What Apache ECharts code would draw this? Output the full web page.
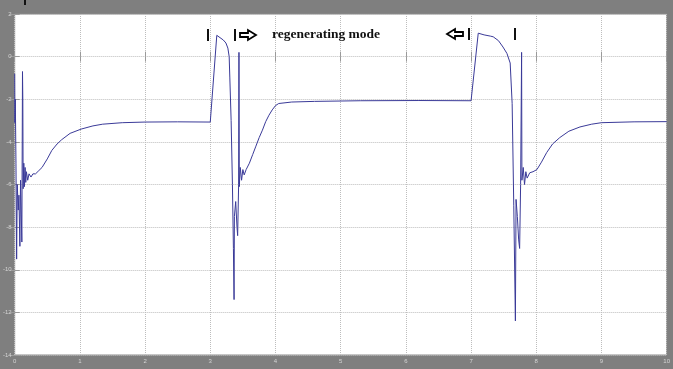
<!DOCTYPE html>
<html>
<head>
<meta charset="utf-8">
<script src="https://cdn.jsdelivr.net/npm/echarts@6/dist/echarts.min.js"></script>
<style>
  html, body { margin: 0; padding: 0; background: #7f7f7f; }
  #chart { width: 673px; height: 369px; }
</style>
</head>
<body>
<div id="chart"></div>
<script>
// time axis (s) and current values
const time = [
  // start-up transient and settling to -3
  0, 0.003, 0.01, 0.02, 0.03, 0.04, 0.055, 0.065, 0.08, 0.09, 0.11, 0.12, 0.125, 0.13, 0.14, 0.15,
  0.16, 0.17, 0.18, 0.2, 0.22, 0.25, 0.28, 0.32, 0.37, 0.42, 0.5, 0.57, 0.65, 0.72, 0.85, 1.02,
  1.2, 1.35, 1.65, 2.0, 2.5, 3.0,
  // first step (motoring peak), dip and settling to -2
  3.1, 3.2, 3.24, 3.27, 3.29, 3.3, 3.32, 3.34, 3.355, 3.365, 3.37, 3.39, 3.41, 3.42, 3.435, 3.44,
  3.445, 3.46, 3.48, 3.5, 3.52, 3.55, 3.6, 3.65, 3.7, 3.75, 3.8, 3.85, 3.9, 3.95, 4.0, 4.05,
  4.25, 4.6, 5.3, 6.2, 7.0,
  // second step, dip and settling back to -3
  7.11, 7.2, 7.3, 7.34, 7.42, 7.49, 7.55, 7.6, 7.63, 7.655, 7.68, 7.69, 7.71, 7.73, 7.745, 7.76,
  7.775, 7.78, 7.8, 7.82, 7.84, 7.86, 7.9, 7.95, 8.01, 8.08, 8.16, 8.25, 8.36, 8.5, 8.67, 8.85,
  9.0, 9.5, 10
];
const current = [
  -0.8, -3.1, -2.0, -5.0, -9.5, -6.0, -7.2, -6.5, -8.9, -5.8, -8.7, -0.7, -2.0, -6.2, -5.0, -6.1,
  -5.2, -5.9, -5.4, -5.8, -5.5, -5.65, -5.5, -5.5, -5.35, -5.2, -4.8, -4.4, -4.1, -3.9, -3.6, -3.4,
  -3.25, -3.17, -3.1, -3.07, -3.06, -3.07,
  1.0, 0.78, 0.64, 0.4, 0.0, -1.0, -3.0, -6.0, -9.0, -11.4, -7.5, -6.8, -8.0, -8.4, -6.0, 0.2,
  -6.1, -5.2, -5.8, -5.3, -5.55, -5.3, -5.0, -4.6, -4.2, -3.8, -3.45, -3.05, -2.75, -2.5, -2.3, -2.2,
  -2.13, -2.1, -2.07, -2.06, -2.07,
  1.1, 1.02, 0.96, 0.93, 0.75, 0.45, 0.15, -0.3, -2.2, -7.0, -12.4, -6.7, -7.5, -8.6, -9.0, -6.0,
  0.2, -5.8, -5.2, -6.0, -5.4, -5.7, -5.45, -5.4, -5.3, -4.95, -4.5, -4.1, -3.8, -3.5, -3.3, -3.17,
  -3.1, -3.06, -3.05
];
const xTicks = [0, 1, 2, 3, 4, 5, 6, 7, 8, 9, 10];
const yTicks = [2, 0, -2, -4, -6, -8, -10, -12, -14];

const trace = time.map((t, i) => [t, current[i]]);

const chart = echarts.init(document.getElementById('chart'));

const labelColor = '#d4d4d4';
const gridLine = { show: true, lineStyle: { color: '#bdbdbd', type: 'dotted', width: 1 } };
const tick = { show: true, inside: true, length: 5, lineStyle: { color: '#9a9a9a' } };

// hollow block arrow used in the annotations
function arrow(x, y, dir) {
  const p = dir > 0
    ? [[0, -2], [8, -2], [8, -5], [16, 0], [8, 5], [8, 2], [0, 2]]
    : [[16, -2], [8, -2], [8, -5], [0, 0], [8, 5], [8, 2], [16, 2]];
  return {
    type: 'polygon', x: x, y: y, z: 100,
    shape: { points: p },
    style: { fill: '#fff', stroke: '#000', lineWidth: 1.8 }
  };
}
function bar(x, y, h) {
  return { type: 'rect', x: x, y: y, z: 100, shape: { width: 2, height: h }, style: { fill: '#111' } };
}

const options = {
  backgroundColor: '#7f7f7f',
  animation: false,
  grid: {
    left: 13, right: 6, top: 14, bottom: 14,
    show: true, backgroundColor: '#ffffff', borderColor: '#8c8c8c', borderWidth: 1
  },
  xAxis: [{
    type: 'value', min: 0, max: 10, interval: 1,
    axisLine: { show: false },
    axisTick: tick,
    splitLine: gridLine,
    axisLabel: {
      color: labelColor, fontSize: 6, margin: 3,
      formatter: (v) => (xTicks.includes(v) ? String(v) : '')
    }
  }, {
    type: 'value', min: 0, max: 10, interval: 1, position: 'top',
    axisLine: { show: false }, axisTick: tick, splitLine: { show: false }, axisLabel: { show: false }
  }],
  yAxis: [{
    type: 'value', min: -14, max: 2, interval: 2,
    axisLine: { show: false },
    axisTick: tick,
    splitLine: gridLine,
    axisLabel: {
      color: labelColor, fontSize: 6, margin: 3,
      formatter: (v) => (yTicks.includes(v) ? String(v) : '')
    }
  }, {
    type: 'value', min: -14, max: 2, interval: 2, position: 'right',
    axisLine: { show: false }, axisTick: tick, splitLine: { show: false }, axisLabel: { show: false }
  }],
  series: [{
    type: 'line',
    data: trace,
    showSymbol: false,
    smooth: false,
    lineStyle: { color: '#3a3a98', width: 1 },
    emphasis: { disabled: true }
  }],
  graphic: [
    bar(24, 0, 5),
    bar(207, 29, 12),
    bar(234, 29, 12),
    arrow(240, 35, 1),
    {
      type: 'text', x: 272, y: 35, z: 100,
      style: {
        text: 'regenerating mode', fill: '#111',
        font: 'bold 13.5px "Liberation Serif", "DejaVu Serif", serif',
        verticalAlign: 'middle'
      }
    },
    arrow(447, 34, -1),
    bar(468, 28, 12),
    bar(514, 28, 12)
  ]
};

chart.setOption(options);
</script>
</body>
</html>
